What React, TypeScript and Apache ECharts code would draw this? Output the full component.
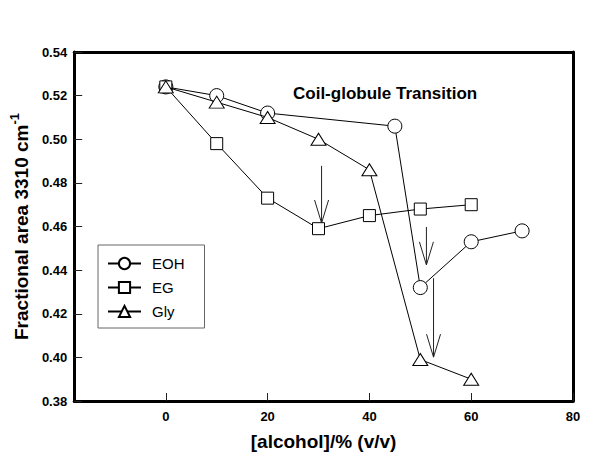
import React, { useEffect, useRef } from "react";
import * as echarts from "echarts";

const FONT = "'Liberation Sans', Arial, sans-serif";

const xTickValues = [0, 20, 40, 60, 80];

const eohX = [0, 10, 20, 45, 50, 60, 70];
const eohY = [0.524, 0.520, 0.512, 0.506, 0.432, 0.453, 0.458];

const egX = [0, 10, 20, 30, 40, 50, 60];
const egY = [0.524, 0.498, 0.473, 0.459, 0.465, 0.468, 0.470];

const glyX = [0, 10, 20, 30, 40, 50, 60];
const glyY = [0.524, 0.517, 0.510, 0.500, 0.486, 0.399, 0.390];

// arrows: [x, yStart, yEnd]
const arrowX = [30.6, 51.2, 52.6];
const arrowStart = [0.4878, 0.4598, 0.4363];
const arrowEnd = [0.4616, 0.4424, 0.4001];

const pairs = (xs: number[], ys: number[]) => xs.map((x, i) => [x, ys[i]]);

export default function App() {
  const ref = useRef<HTMLDivElement>(null);
  useEffect(() => {
    if (!ref.current) return;
    const chart = echarts.init(ref.current, null, { renderer: "svg" });
    const markerStyle = { color: "#ffffff", borderColor: "#000000", borderWidth: 1 };
    const lineStyle = { color: "#000000", width: 1 };
    const frameLine = { show: true, onZero: false, lineStyle: { color: "#000", width: 3 } };
    chart.setOption({
      animation: false,
      backgroundColor: "#ffffff",
      textStyle: { fontFamily: FONT },
      title: {
        text: "Coil-globule Transition",
        left: 293,
        top: 85,
        padding: 0,
        textStyle: { fontSize: 17, fontWeight: "bold", color: "#000", fontFamily: FONT },
      },
      grid: {
        left: 69,
        top: 52,
        width: 504,
        height: 349,
      },
      legend: {
        data: ["EOH", "EG", "Gly"],
        orient: "vertical",
        left: 98,
        top: 245,
        itemWidth: 33,
        itemHeight: 14,
        itemGap: 9,
        padding: [11, 20, 9, 9],
        borderColor: "#666",
        borderWidth: 1,
        textStyle: { fontSize: 15, color: "#000", fontFamily: FONT, padding: [0, 0, 0, 6] },
      },
      xAxis: [
        {
          type: "value",
          position: "bottom",
          min: -18,
          max: 80,
          splitLine: { show: false },
          axisLine: frameLine,
          axisTick: {
            show: true,
            inside: true,
            length: 8,
            lineStyle: { color: "#222", width: 1 },
            customValues: xTickValues,
          },
          axisLabel: {
            customValues: xTickValues,
            margin: 9,
            fontSize: 13,
            fontWeight: "bold",
            color: "#000",
            fontFamily: FONT,
          },
          name: "[alcohol]/% (v/v)",
          nameLocation: "middle",
          nameGap: 31,
          nameTextStyle: { fontSize: 19, fontWeight: "bold", color: "#000", fontFamily: FONT },
        },
        {
          type: "value",
          position: "top",
          min: -18,
          max: 80,
          splitLine: { show: false },
          axisLine: frameLine,
          axisTick: { show: false },
          axisLabel: { show: false },
        },
      ],
      yAxis: [
        {
          type: "value",
          position: "left",
          min: 0.38,
          max: 0.54,
          interval: 0.02,
          splitLine: { show: false },
          axisLine: frameLine,
          axisTick: { show: true, inside: true, length: 8, lineStyle: { color: "#222", width: 1 } },
          axisLabel: {
            margin: 7,
            fontSize: 13,
            fontWeight: "bold",
            color: "#000",
            fontFamily: FONT,
            formatter: (v: number) => v.toFixed(2),
          },
          name: "{a|Fractional area 3310 cm}{b|-1}",
          nameLocation: "middle",
          nameGap: 32,
          nameTextStyle: {
            rich: {
              a: { fontSize: 19, fontWeight: "bold", color: "#000", fontFamily: FONT },
              b: { fontSize: 13, fontWeight: "bold", color: "#000", fontFamily: FONT, padding: [0, 0, 14, 0] },
            },
          },
        },
        {
          type: "value",
          position: "right",
          min: 0.38,
          max: 0.54,
          interval: 0.02,
          splitLine: { show: false },
          axisLine: frameLine,
          axisTick: { show: false },
          axisLabel: { show: false },
        },
      ],
      series: [
        {
          name: "EOH",
          type: "line",
          data: pairs(eohX, eohY),
          symbol: "circle",
          symbolSize: 14,
          itemStyle: markerStyle,
          lineStyle,
          z: 3,
        },
        {
          name: "EG",
          type: "line",
          data: pairs(egX, egY),
          symbol: "rect",
          symbolSize: 12,
          itemStyle: markerStyle,
          lineStyle,
          z: 3,
        },
        {
          name: "Gly",
          type: "line",
          data: pairs(glyX, glyY),
          symbol: "triangle",
          symbolSize: [15, 12],
          itemStyle: markerStyle,
          lineStyle,
          z: 4,
        },
        {
          name: "arrows",
          type: "custom",
          data: arrowX.map((x, i) => [x, arrowStart[i], arrowEnd[i]]),
          encode: { x: 0, y: [1, 2] },
          z: 5,
          renderItem: (params: any, api: any) => {
            const top = api.coord([api.value(0), api.value(1)]);
            const tip = api.coord([api.value(0), api.value(2)]);
            return {
              type: "group",
              children: [
                {
                  type: "line",
                  shape: { x1: top[0], y1: top[1], x2: tip[0], y2: tip[1] },
                  style: { stroke: "#222", lineWidth: 1 },
                },
                {
                  type: "polyline",
                  shape: {
                    points: [
                      [tip[0] - 7, tip[1] - 23],
                      [tip[0], tip[1]],
                      [tip[0] + 7, tip[1] - 23],
                    ],
                  },
                  style: { stroke: "#222", fill: "none", lineWidth: 1 },
                },
              ],
            };
          },
        },
      ],
    });
    return () => chart.dispose();
  }, []);
  return (
    <div
      ref={ref}
      style={{ position: "fixed", left: 0, top: 0, width: 600, height: 456, background: "#fff" }}
    />
  );
}
